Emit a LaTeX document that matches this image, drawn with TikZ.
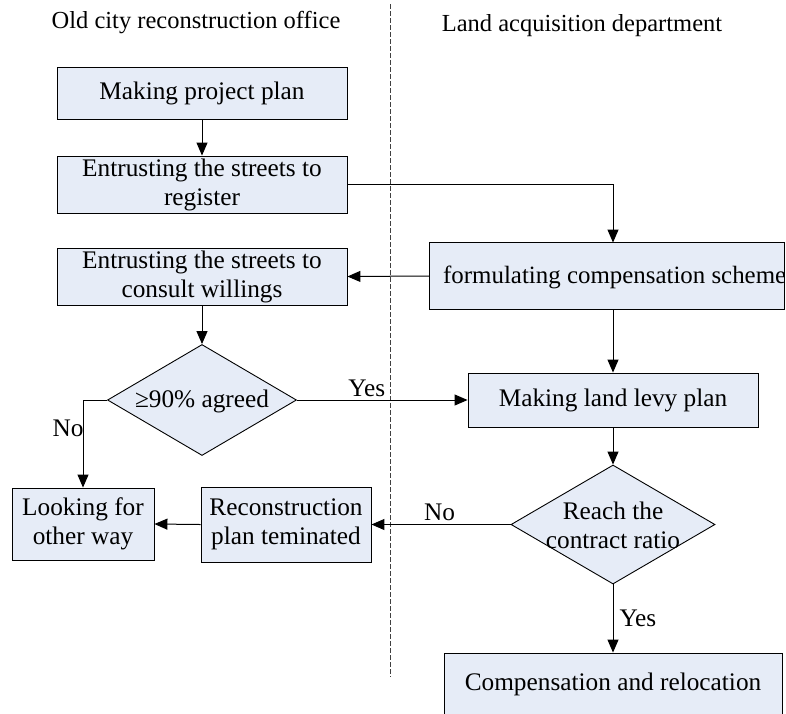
\documentclass[tikz,border=0pt]{standalone}
\usepackage{fontspec}
\setmainfont{Liberation Serif}
\usetikzlibrary{arrows.meta,shapes.geometric,calc}
\definecolor{boxfill}{RGB}{230,236,247}
\tikzset{
  box/.style={draw=black, line width=0.9pt, fill=boxfill, rectangle, inner sep=0pt, align=center,
              font=\fontsize{25.3}{29}\selectfont},
  dia/.style={draw=black, line width=0.9pt, fill=boxfill, diamond, inner sep=0pt},
  txt/.style={inner sep=0pt, align=center, font=\fontsize{25.3}{29}\selectfont},
  conn/.style={line width=1pt, draw=black},
  arr/.style={conn, -{Triangle[length=13pt,width=11pt]}},
  lane/.style={line width=0.9pt, draw=black!75, dash pattern=on 4.5pt off 2.5pt}
}
\begin{document}
\begin{tikzpicture}[x=1pt,y=-1pt]
\useasboundingbox (0,0) rectangle (786,713);
\clip (0,0) rectangle (786,713);
\fill[white] (0,0) rectangle (786,713);

% lane titles and separator
\node[txt, font=\fontsize{24.5}{28}\selectfont] (t1) at (196,23) {Old city reconstruction office};
\node[txt, font=\fontsize{24.5}{28}\selectfont] (t2) at (582,26) {Land acquisition department};
\coordinate (lt) at (390,4);
\coordinate (lb) at (390,677);
\draw[lane] (lt) -- (lb);

% boxes
\node[box, minimum width=290, minimum height=52] (b1) at (202,93) {Making project plan};
\node[box, minimum width=290, minimum height=57] (b2) at (202,184.5) {Entrusting the streets to\\register};
\node[box, draw=none, minimum width=354, minimum height=66] (b3) at (607,276) {};
\begin{scope}
\clip (b3.south west) rectangle (b3.north east);
\node[txt, anchor=west, font=\fontsize{24.9}{29}\selectfont] (b3t) at (443,277) {formulating compensation scheme};
\end{scope}
\draw[line width=0.9pt] (b3.south west) rectangle (b3.north east);
\node[box, minimum width=290, minimum height=57] (b4) at (202,276.5) {Entrusting the streets to\\consult willings};
\node[box, minimum width=290, minimum height=54] (b5) at (613,400) {Making land levy plan};
\node[box, minimum width=142, minimum height=72] (b6) at (83,524) {Looking for\\other way};
\node[box, minimum width=170, minimum height=75] (b7) at (286,524.5) {Reconstruction\\plan teminated};
\node[box, minimum width=338, minimum height=62] (b8) at (613,684) {Compensation and relocation};

% diamonds
\node[dia, minimum width=189, minimum height=111] (d1) at (202,400) {};
\node[txt] (d1t) at (202,401) {≥90\% agreed};
\node[dia, minimum width=204, minimum height=119] (d2) at (613,524.5) {};
\node[txt] (d2t) at (613,525) {Reach the\\contract ratio};

% connectors
\draw[arr] (b1) -- (b2);
\draw[arr] (b2.east) -| ([xshift=6]b3.north);
\draw[arr] (b3.west) -- (b4.east);
\draw[arr] (b3.south -| b5.north) -- (b5.north);
\draw[arr] (b4) -- (d1);
\draw[arr] (d1.east) -- (b5.west) node[txt, pos=0.41, above=3pt] (y1) {Yes};
\draw[arr] (d1.west) -| (b6.north);
\draw[arr] (b5) -- (d2);
\draw[arr] (d2.west) -- (b7.east) node[txt, pos=0.51, above=3pt] (n2) {No};
\draw[arr] (b7.west) -- (b6.east);
\draw[arr] (d2.south) -- (b8.north) node[txt, pos=0.5, right=6pt] (y2) {Yes};
\node[txt] (n1) at (68,428) {No};
\end{tikzpicture}
\end{document}
